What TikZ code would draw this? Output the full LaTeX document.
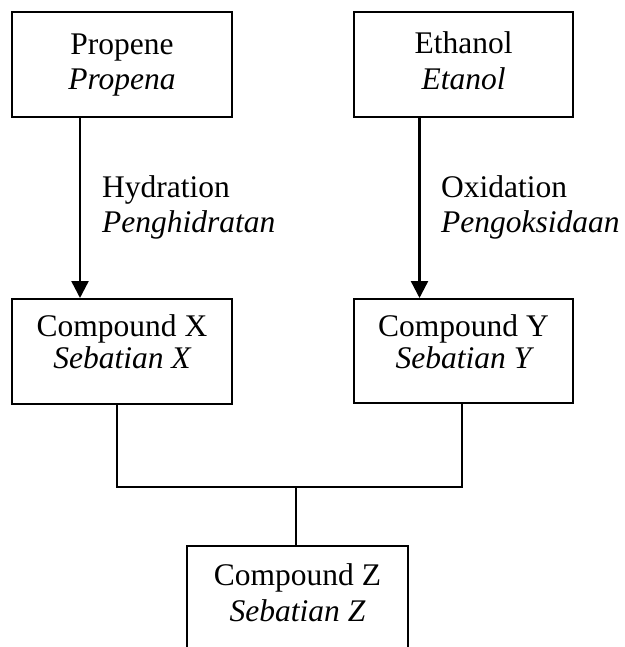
\documentclass[tikz,border=0pt]{standalone}
\usepackage{fontspec}
\setmainfont{Liberation Serif}
\usetikzlibrary{arrows.meta}
\begin{document}
\begin{tikzpicture}[x=1pt,y=-1pt,
  boxnode/.style={draw=black,line width=2pt,rectangle,inner sep=0pt},
  txt/.style={anchor=base,inner sep=0pt,font=\fontsize{31.5}{36}\selectfont},
  itx/.style={txt,font=\fontsize{31.5}{36}\selectfont\itshape},
  lbl/.style={anchor=base west,inner sep=0pt,font=\fontsize{31.5}{36}\selectfont},
  ilbl/.style={lbl,font=\fontsize{31.5}{36}\selectfont\itshape},
  arr/.style={line width=2.4pt,-{Triangle[length=17pt,width=17pt]}},
  conn/.style={line width=1.7pt}]
\clip (0,0) rectangle (624,647);
\fill[white] (0,0) rectangle (624,647);
% boxes
\node[boxnode,minimum width=220pt,minimum height=105pt] (prop) at (122,64.5) {};
\node[boxnode,minimum width=219pt,minimum height=105pt] (eth) at (463.5,64.5) {};
\node[boxnode,minimum width=220pt,minimum height=105pt] (cx) at (122,351.5) {};
\node[boxnode,minimum width=219pt,minimum height=104pt] (cy) at (463.5,351) {};
\node[boxnode,minimum width=221pt,minimum height=130pt] (cz) at (297.5,611) {};
% texts
\node[txt] (t1a) at (122,55) {Propene};
\node[itx] (t1b) at (122,90) {Propena};
\node[txt] (t2a) at (463.5,54) {Ethanol};
\node[itx] (t2b) at (463.5,89.5) {Etanol};
\node[txt] (t3a) at (122,336) {Compound X};
\node[itx] (t3b) at (122,368) {Sebatian X};
\node[txt] (t4a) at (463.5,336) {Compound Y};
\node[itx] (t4b) at (463.5,368) {Sebatian Y};
\node[txt] (t5a) at (297.5,585) {Compound Z};
\node[itx] (t5b) at (297.5,621) {Sebatian Z};
% labels
\node[lbl] (l1a) at (102,197) {Hydration};
\node[ilbl] (l1b) at (102,232) {Penghidratan};
\node[lbl] (l2a) at (441,197) {Oxidation};
\node[ilbl] (l2b) at (441,232) {Pengoksidaan};
% arrows
\coordinate (a1) at (80,0);
\coordinate (a2) at (419.5,0);
\draw[arr] (prop.south -| a1) -- (cx.north -| a1);
\draw[arr] (eth.south -| a2) -- (cy.north -| a2);
% connectors
\coordinate (jx) at (117,487);
\coordinate (jy) at (462,487);
\coordinate (jm) at (296,487);
\draw[conn] (cx.south -| jx) -- (jx) -- (jy) -- (cy.south -| jy);
\draw[conn] (jm) -- (cz.north -| jm);
\end{tikzpicture}
\end{document}
